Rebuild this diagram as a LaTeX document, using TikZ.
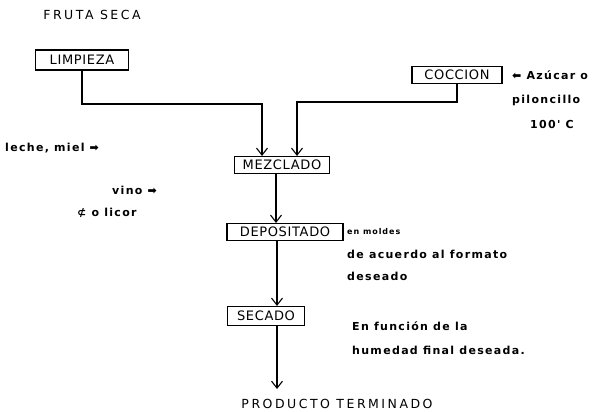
\documentclass[tikz,border=0pt]{standalone}
\usepackage{fontspec}
\setmainfont{DejaVu Sans}
\newfontfamily\cajafont{DejaVu Sans}[LetterSpace=5]
\newfontfamily\titfont{DejaVu Sans}[LetterSpace=20]
\newfontfamily\notafont{DejaVu Sans Bold}[LetterSpace=12]
\usetikzlibrary{arrows.meta}
\tikzset{
  caja/.style={draw, line width=1.1pt, inner sep=0pt, minimum height=17pt, font=\cajafont\fontsize{13}{15}\selectfont},
  titulo/.style={inner sep=0pt, font=\titfont\fontsize{12.5}{14}\selectfont},
  nota/.style={anchor=west, inner sep=0pt, font=\notafont\fontsize{11}{13}\selectfont},
  flecha/.style={line width=1.1pt, -{Straight Barb[length=7pt,width=11pt]}}
}
\begin{document}
\begin{tikzpicture}[x=1pt, y=-1pt]
    \useasboundingbox (0,0) rectangle (602,412);

    % etapas del proceso
    \node[titulo] (fruta) at (92,15) {FRUTA SECA};
    \node[caja, minimum width=93pt, minimum height=20pt] (limpieza) at (82,60) {LIMPIEZA};
    \node[caja, minimum width=90pt] (coccion) at (457,75) {COCCION};
    \node[caja, minimum width=95pt] (mezclado) at (282,165) {MEZCLADO};
    \node[caja, minimum width=116pt] (depositado) at (285,232) {DEPOSITADO};
    \node[caja, minimum width=77pt, minimum height=19pt] (secado) at (266,316) {SECADO};
    \node[titulo] (producto) at (337,404) {PRODUCTO TERMINADO};

    % uniones
    \coordinate (e1) at (262,104);
    \coordinate (e2) at (297,102);
    \coordinate (v1) at (276,0);
    \coordinate (v2) at (277,0);
    \coordinate (fin) at (277,389);
    \draw[flecha] (limpieza.south) |- (e1) -- (e1 |- mezclado.north);
    \draw[flecha] (coccion.south) |- (e2) -- (e2 |- mezclado.north);
    \draw[flecha] (v1 |- mezclado.south) -- (v1 |- depositado.north);
    \draw[flecha] (v2 |- depositado.south) -- (v2 |- secado.north);
    \draw[flecha] (v2 |- secado.south) -- (fin);

    % ingredientes y notas
    \node[nota] (azucar) at (512,75) {⬅ Azúcar o};
    \node[nota] (piloncillo) at (512,100) {piloncillo};
    \node[nota] (temp) at (530,124) {100' C};
    \node[nota] (leche) at (5,148) {leche, miel ➡};
    \node[nota] (vino) at (112,190) {vino ➡};
    \node[nota] (licor) at (77,213) {⊄ o licor};
    \node[nota, font=\notafont\fontsize{8}{10}\selectfont] (moldes) at (347,232) {en moldes};
    \node[nota] (acuerdo) at (347,254) {de acuerdo al formato};
    \node[nota] (deseado) at (347,276) {deseado};
    \node[nota] (funcion) at (352,326) {En función de la};
    \node[nota] (humedad) at (352,350) {humedad final deseada.};
\end{tikzpicture}
\end{document}
